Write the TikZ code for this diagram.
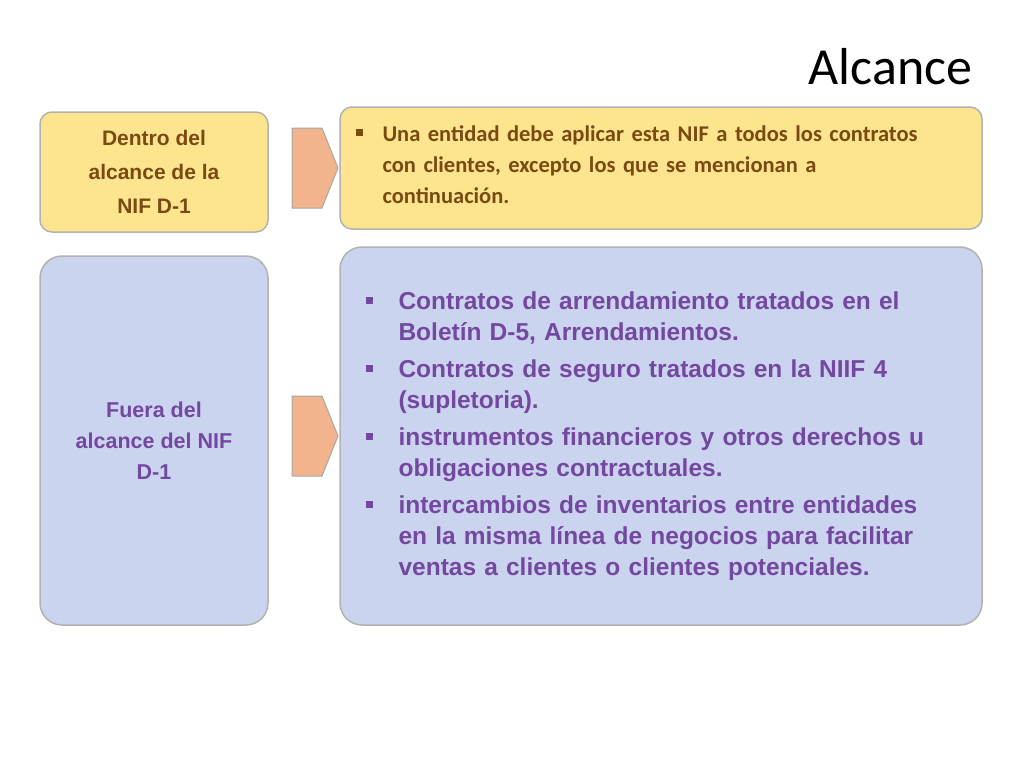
\documentclass[tikz,border=0pt]{standalone}
\usepackage{fontspec}
\setmainfont{Liberation Sans}
\newfontfamily\calib{Carlito}
\definecolor{yelfill}{HTML}{FCE58E}
\definecolor{lavfill}{HTML}{CBD4EE}
\definecolor{browntext}{HTML}{7A4A12}
\definecolor{purptext}{HTML}{7448A0}
\definecolor{chevfill}{HTML}{F2B48C}
\newcommand{\sqbullet}[1]{\makebox[#1][l]{\rule[5pt]{7pt}{7pt}}}
\tikzset{
  yelbox/.style={draw=gray!60, line width=1.5pt, fill=yelfill, rounded corners=12pt, inner sep=0pt},
  lavbox/.style={draw=gray!60, line width=1.5pt, fill=lavfill, rounded corners=22pt, inner sep=0pt},
  chev/.style={draw=gray!70, line width=1pt, fill=chevfill}
}
\begin{document}
\begin{tikzpicture}[x=1pt,y=-1pt]
  \useasboundingbox (0,0) rectangle (1024,768);

  \node[anchor=east, font=\calib\fontsize{52}{56}\selectfont] (title) at (976,67) {Alcance};

  % dentro del alcance
  \draw[yelbox] (40,112) rectangle (268,232);
  \node[align=center, text=browntext, font=\bfseries\fontsize{21}{34}\selectfont] (dentro) at (154,172) {Dentro del\\alcance de la\\NIF D-1};
  \draw[chev] (292,128) -- (322,128) -- (338,168) -- (322,208) -- (292,208) -- cycle;
  \draw[yelbox] (340,107) rectangle (982,229);
  \node[anchor=north west, text width=620pt, text=browntext, font=\calib\bfseries\fontsize{22.5}{31}\selectfont] (txtA) at (352,122)
    {\sqbullet{27pt}Una entidad debe aplicar esta NIF a todos los contratos\\
     \hspace*{27pt}con clientes, excepto los que se mencionan a\\
     \hspace*{27pt}continuación.};

  % fuera del alcance
  \draw[lavbox] (40,256) rectangle (268,625);
  \node[align=center, text=purptext, font=\bfseries\fontsize{21.5}{31}\selectfont] (fuera) at (154,441) {Fuera del\\alcance del NIF\\D-1};
  \draw[chev] (292,396) -- (322,396) -- (338,436) -- (322,476) -- (292,476) -- cycle;
  \draw[lavbox] (340,247) rectangle (982,625);
  \node[anchor=north west, text width=600pt, text=purptext, font=\bfseries\fontsize{24.5}{31}\selectfont] (txtB) at (362,288)
    {\setlength{\parskip}{6pt}%
     \sqbullet{33pt}Contratos de arrendamiento tratados en el\\\hspace*{33pt}Boletín D-5, Arrendamientos.\par
     \sqbullet{33pt}Contratos de seguro tratados en la NIIF 4\\\hspace*{33pt}(supletoria).\par
     \sqbullet{33pt}instrumentos financieros y otros derechos u\\\hspace*{33pt}obligaciones contractuales.\par
     \sqbullet{33pt}intercambios de inventarios entre entidades\\\hspace*{33pt}en la misma línea de negocios para facilitar\\\hspace*{33pt}ventas a clientes o clientes potenciales.};
\end{tikzpicture}
\end{document}
